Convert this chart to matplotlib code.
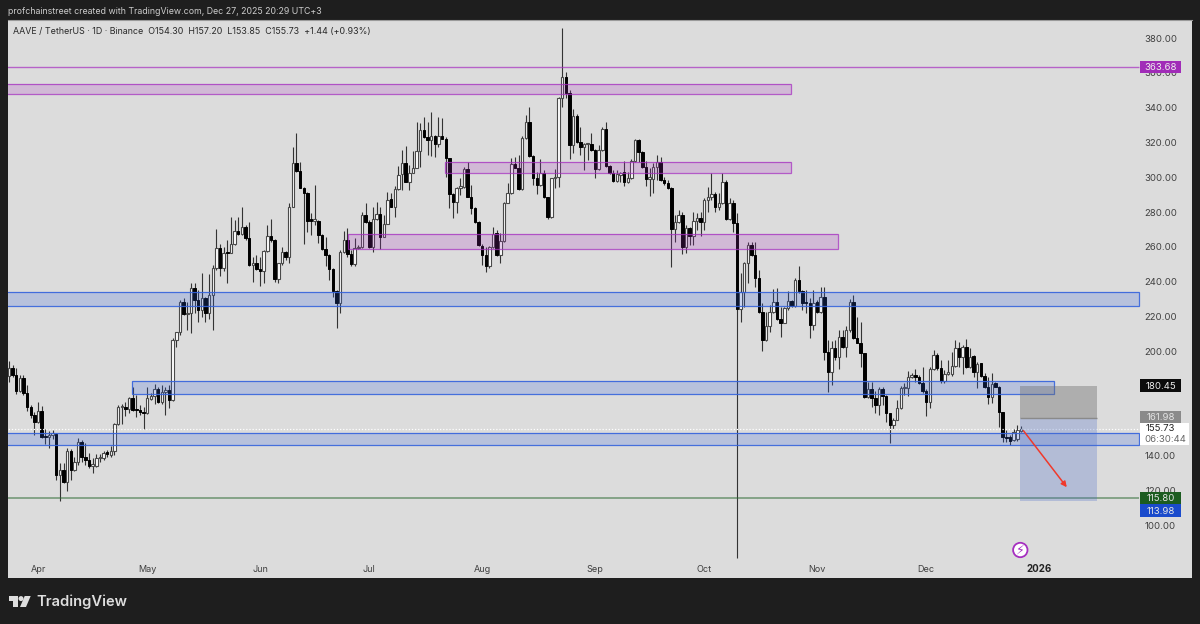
import matplotlib
matplotlib.use("Agg")
import matplotlib.pyplot as plt
from matplotlib.patches import Rectangle, Polygon, Circle
from matplotlib.transforms import blended_transform_factory
import numpy as np
import pandas as pd

plt.rcParams['font.family'] = ['Inter', 'DejaVu Sans']

# daily candles
opens = [
    185,189.6,185.7,176.7,183.8,175.2,167.5,162.7,158.8,165.2,
    150.2,150.2,151.2,151.7,128.1,131,124.3,142.1,131,135.8,
    147.3,138.3,136.8,133.3,133.3,137.7,137.7,141.1,139.6,141.9,
    157.5,167.1,167.1,165.9,172.3,165.9,165.5,164.4,163.6,172.1,
    173.6,177.5,170.3,175.9,177.1,171.3,205.9,210.3,228,220.8,
    221.3,236.1,229,223.3,230.4,221.3,231.9,247.3,258.8,247.3,
    256.3,256.3,261.3,269,267,271.3,264.6,249.2,250.2,246.7,
    245.7,257.5,265.9,263.6,240.9,250.2,256.9,253.6,282.8,307.8,
    303.6,293.8,290.9,275,274.7,274.7,266.5,258.4,255,246.9,
    234.4,227.5,256.9,263.6,255.5,249.8,258.8,259.8,278,274.2,
    259.8,275.5,278.6,265.5,272.8,287,282.8,292.8,301.4,308.1,
    297.2,302,305.3,314.9,327,323.2,321.2,323.7,318.9,323.7,
    321.8,310.6,289.9,285.7,293.8,294.3,304.5,288.6,281.8,274.2,
    260.1,255,248.8,259.4,267.4,255,263.2,285.1,290.5,307.4,
    305.3,292.8,322.2,331.8,312,299.5,295.3,302.4,288.2,276.7,
    299.1,299.7,345.2,357.7,348.5,318.4,335.3,320.3,317.4,318.7,
    319,315.5,304.3,315.5,327.6,306.2,302,297.8,301,302.6,
    297.2,299.5,309.3,321.2,314.5,305.9,298.8,298.8,305.9,308.7,
    298.2,296.3,293.4,269.9,274.2,278,259.8,270.3,265.9,274.5,
    276.5,274.2,286.7,288.6,289.9,282.5,285.1,296.8,275.7,285.1,
    273.2,223.8,233.8,250.5,260.7,255,241.9,222.3,206,214,
    222.3,228,217.9,215.9,224.2,228.4,225.6,240.5,234.2,227.5,
    227.5,214.6,228,222.3,230.9,199.2,187.3,201.1,196.3,207.4,
    202,211.7,228,206.9,204.4,198.2,173.2,177.4,172.3,168.5,
    177.4,173.6,163.6,156.9,160.1,166.5,178,178,184.8,185.2,
    184.8,181.3,176.5,170.3,189.2,197.3,189.6,182.3,186.3,186.3,
    190.9,201.5,196.3,202,190.1,196.7,187.6,192.4,185.3,179,
    172.9,180.9,179,164.6,149.8,150.2,148.4,148.8,154.3,
]
closes = [
    190,185.7,176.7,183.8,175.2,167.5,162.7,158.8,165.2,149.8,
    149.8,151.2,151.7,128.1,131,124.3,142.1,131,135.8,147.3,
    138.3,136.8,133.3,133.9,138.1,138.1,141,140.1,141.9,157.5,
    167.5,167.9,165.9,172.3,165.5,165.5,164.4,163.6,172.3,173.6,
    177.5,170.3,176.1,177.1,171.3,205.9,210.3,227.8,220.8,221.3,
    236.1,229,223.3,230.4,221.3,231.9,247.3,258.8,247.3,256.3,
    255.9,261.3,269,267,271.3,264.6,249.2,250.2,246.7,245.7,
    257.5,265.9,263.6,240.9,250.2,256.9,253.6,282.8,307.8,303.6,
    293.8,290.9,274.7,274.7,275,266.5,258.4,255,246.9,234.4,
    227.5,256.9,263.6,255.5,249.8,258.8,259.8,278,274.2,259.8,
    275.5,278.6,265.5,272.8,286.7,282.8,292.8,301,308.1,297.2,
    302,305.3,314.9,327,323.2,321.2,323.7,318.9,323.7,321.8,
    310.6,289.9,285.7,293.8,294.3,304.5,288.6,281.8,274.2,260.7,
    255,248.8,259.4,267,255,263.2,285.1,290.5,307.4,305.3,
    292.8,322.2,331.8,312,299.5,295.3,302.4,288.2,276.7,299.1,
    299.7,345.2,357.7,348.5,318.4,335.3,320.3,317.4,318.7,319,
    315.5,304.3,315.5,327.6,306.2,302,297.8,301.6,302,297.2,
    299.5,309.3,321.2,314.5,305.9,298.8,299,305.9,308.7,298.2,
    296.3,293.4,269.9,274.2,278,259.8,270.3,265.9,274.5,276.5,
    274.2,286.7,288.6,289.9,282.8,285.1,296.8,275.7,285.1,273.6,
    223.8,233.8,250.5,260.7,255,241.9,222.3,206,214,222.3,
    228,217.9,215.9,224.2,228.4,225.6,240.5,234.2,227.5,227.1,
    214.6,227.5,222.3,230.9,199.2,187.3,201.1,196.3,207.4,202,
    211.7,228,206.9,204.4,198.2,172.9,177.4,172.3,168.5,177.4,
    173.6,163.6,156.9,160.1,166.5,178,178.6,184.8,185.2,184.6,
    181.3,176.5,170.3,189.2,197.3,189.6,182.3,186.3,186.7,190.9,
    201.5,196.3,202,190.1,196.3,187.6,192,185.3,179,172.9,
    180.5,179,164.6,149.8,149.2,147.9,153,154.3,155.73,
]
highs = [
    193.8,191.5,189.6,185.7,185.7,180,168.5,164.6,170.4,167.9,
    154.4,153.7,154,152.1,135.2,135.2,143.5,142.9,138.7,149.2,
    148.3,146.3,141,137.7,140.1,140.5,142.1,142.5,145,157.9,
    168.5,169.3,170.4,173.2,178.6,174.2,168.5,167.1,179,175.1,
    180.5,179,180,178.6,180,206.9,210.7,229,230,228,
    238.6,238.6,234.8,244.8,231,244,249.2,269.7,261.3,259.8,
    263.6,276.7,275.1,276.7,282.4,272.3,274.2,254,254.9,254,
    257.9,272.3,275.5,264,250.5,259.8,257.5,285.1,317.4,325.1,
    308.8,294.3,291,279,295.3,275,267,265.5,255.4,247.3,
    234.8,257.8,269,270.3,257.8,264.6,260.7,279.9,284.7,275.1,
    282.8,285.7,282.8,278,291.5,290.5,294.7,306.4,315.4,317.7,
    306.8,314.9,331.8,330.8,334.7,331.8,337.6,324.1,334.7,334.1,
    323.1,310.8,290.5,294.3,299.1,305.9,308.7,295.3,282.4,274.8,
    261.3,259.8,260.1,270.9,269.4,267.8,285.7,296.3,310.7,311.6,
    312.6,323.7,335.6,340,312.6,303,310.1,303.9,288.6,299.5,
    304.3,345.8,385.6,360.6,350,338.9,336,328.5,319.7,319.3,
    325,315.9,318.4,328.5,331.4,306.8,304,304,303,309.3,
    303,310.1,321.6,321.6,315.1,309.3,304.9,307.8,312.6,311.6,
    300.1,298.2,294,278,280.9,279.9,272.2,271.3,279.9,279.4,
    279.9,287.6,294.3,302,291.5,290.5,302,298.2,287.6,286.7,
    279.3,244.4,251.1,262.6,262.6,262.6,246.3,227.1,222.3,226.1,
    235.4,235.7,225.2,225.2,234.4,229,241.5,248.6,234.8,234.8,
    230,234.8,229,236.2,236.7,205.9,205.5,205.9,211.7,211.7,
    214,229.3,231.9,219,216.5,198.6,181.9,181.9,176.7,179,
    178.6,174.2,164,160.7,171.3,179.4,181.3,188.2,186.7,189,
    185.7,190.1,177.4,190.1,200.1,198.2,194.4,188.6,194.4,199.2,
    205.9,204.9,203,206.3,201.1,197.3,193.4,192.8,186.7,184.8,
    186.7,181.9,179.4,164.6,154,151.2,154.4,156.9,157.2,
]
lows = [
    181.9,184.8,174.8,176.1,174.2,165.2,160.8,151.2,157.9,149.2,
    146,143.9,148.7,125.2,113.3,123.3,119.1,125.2,130.4,133.9,
    135.8,133.9,132,129,132.9,135.8,136.7,138.6,138.6,139.6,
    156.9,157.5,162.1,163.6,165.2,161.3,162.7,154.9,163.2,171.3,
    169,169.7,169,162.7,166.5,170.9,201.7,208.8,220.4,211.7,
    209.8,221.3,216.5,219.4,216.5,218,211.7,246.3,243,245.9,
    239,255.9,260.7,266.5,266.5,263.6,248.8,239.6,246.3,237,
    238.6,256.9,262.6,239.6,239,249.2,252.1,250.2,282.4,303,
    293.4,261.3,268.4,266.5,272.3,262.1,257.8,248.6,240.5,230.9,
    212.7,221.3,255.9,254,248.6,248.6,258.2,258.8,273.2,258.8,
    256.9,275.1,258.2,265.1,272.8,282.4,277,292.4,292.4,296.8,
    292.4,302,304.9,305.9,322.2,312.6,312,311.6,317.4,321.6,
    300.1,281.9,276.1,279.4,289.5,293.4,288.2,278.6,273.2,260.1,
    249.2,245,247.3,259,254.4,250.5,262.6,284.7,290.1,304.9,
    292.4,292.4,321.6,311.6,295.3,290.1,294.7,287.6,275.5,276.1,
    293.4,293.9,340,345.2,310.1,313.6,319.7,312.6,304,309.7,
    314.9,299.1,304,315.1,305.9,301.6,297.2,297.2,297.2,294.7,
    296.3,298.8,308.7,308.7,305.3,294.9,289.2,290.5,298.2,297.6,
    295.3,293,248.2,262.6,273.2,255.5,255.9,260.7,260.7,269.4,
    265.9,269.4,279.9,286.7,279.9,280.9,284.3,275.1,275.1,268.4,
    80.3,216.5,225.2,238.6,254.4,236.7,221.7,199.8,205.6,210.8,
    221.3,217.5,207.9,215.6,223.3,225.2,225.2,232.9,223.3,221.3,
    206.9,211.7,221.7,221.7,194.4,176.1,180,194.4,189,201.1,
    195.9,210.7,206.3,204,190.1,172.3,172.3,167.1,164,162.7,
    168.5,158.8,146.3,154.4,159.7,165.9,174.2,173.6,183.8,181.9,
    180.5,175.5,162.1,166.5,188.6,188.6,180.9,181.3,185.7,185.1,
    190.1,190.5,186.3,189.6,189.6,184.8,178,184.8,178,169,
    169.4,178.6,155.6,147.3,147.3,145.4,147.7,147.7,153.85,
]

# (left, right, top, bottom) in candle index / price
purple_zones = [(-2, 214.9, 353.9, 348.0), (119.8, 214.9, 308.9, 302.9), (93.2, 227.8, 267.5, 258.8)]
blue_zones = [(-2, 310.5, 234.1, 226.4), (33.8, 287.1, 183.3, 175.5), (-2, 310.5, 153.0, 146.3)]
price_ticks = [380, 360, 340, 320, 300, 280, 260, 240, 220, 200, 180, 160, 140, 120, 100]
month_labels = ['Apr', 'May', 'Jun', 'Jul', 'Aug', 'Sep', 'Oct', 'Nov', 'Dec', '2026']
month_starts = ['2025-04-01', '2025-05-01', '2025-06-01', '2025-07-01', '2025-08-01',
                '2025-09-01', '2025-10-01', '2025-11-01', '2025-12-01', '2026-01-01']

opens, highs, lows, closes = map(np.array, (opens, highs, lows, closes))


def fix_reading(p):
    # candles were read with a slightly off scale, the labels 363.68 and 115.80 pin the true one
    # last candle is known exactly from the header so leave it
    out = 380 - (380 - p) * 0.9977 + 0.345
    out[-1] = p[-1]
    return out


opens, highs, lows, closes = map(fix_reading, (opens, highs, lows, closes))

dates = pd.date_range('2025-03-24', periods=len(closes))
x = np.arange(len(closes))
month_x = [(pd.Timestamp(d) - dates[0]).days for d in month_starts]

W, H = 1200, 624
DARK = '#1e1e1e'
PANEL = '#dcdcdc'
PURPLE = '#a62fc0'
BLUE = '#3563dc'

fig = plt.figure(figsize=(W / 100, H / 100), dpi=100, facecolor=DARK)
ax = fig.add_axes([8 / W, 1 - 578 / H, 1184 / W, 558 / H], facecolor=PANEL)
ax.set_xlim(-0.25, 325)
ax.set_ylim(69.8, 390.7)
ax.set_xticks([])
ax.set_yticks([])
for s in ax.spines.values():
    s.set_visible(False)
ax.spines['top'].set_visible(True)
ax.spines['top'].set_color('#9a9a9a')
ax.spines['top'].set_linewidth(0.8)
ytrans = blended_transform_factory(ax.transAxes, ax.transData)

# candles
ax.vlines(x, lows, highs, color='#333333', lw=0.8, zorder=2)
up = closes >= opens
body_h = np.maximum(np.abs(closes - opens), 0.9)
body_b = np.minimum(opens, closes)
ax.bar(x[up], body_h[up], bottom=body_b[up], width=0.68, facecolor='white',
       edgecolor='#4a4a4a', linewidth=0.8, zorder=2.5)
ax.bar(x[~up], body_h[~up], bottom=body_b[~up], width=0.68, facecolor='black',
       edgecolor='black', linewidth=0.7, zorder=2.5)

# drawn zones
for left, right, top, bot in purple_zones:
    ax.add_patch(Rectangle((left, bot), right - left, top - bot, facecolor=PURPLE, alpha=0.2, lw=0, zorder=3))
    ax.add_patch(Rectangle((left, bot), right - left, top - bot, fill=False, edgecolor=PURPLE,
                           lw=0.9, alpha=0.75, zorder=3))
for left, right, top, bot in blue_zones:
    ax.add_patch(Rectangle((left, bot), right - left, top - bot, facecolor=BLUE, alpha=0.22, lw=0, zorder=3))
    ax.add_patch(Rectangle((left, bot), right - left, top - bot, fill=False, edgecolor=BLUE,
                           lw=0.9, alpha=0.9, zorder=3))

ax.hlines(363.68, -2, 310.5, color=PURPLE, lw=1.0, alpha=0.7, zorder=3)
ax.hlines(115.80, -2, 310.5, color='#2e6b34', lw=1.4, alpha=0.5, zorder=3)
ax.hlines(155.73, -2, 310.5, color='white', lw=0.9, linestyles=(0, (1, 1.5)), zorder=3)

# short position box
ax.add_patch(Rectangle((277.8, 161.98), 21.1, 180.45 - 161.98, facecolor='#6f6f6f', alpha=0.42, lw=0, zorder=3))
ax.add_patch(Rectangle((277.8, 113.98), 21.1, 161.98 - 113.98, facecolor='#4a6cc8', alpha=0.28, lw=0, zorder=3))
ax.hlines(161.98, 277.8, 298.9, color='#8a8a8a', lw=1.0, zorder=3)
ax.annotate('', xy=(290.6, 122), xytext=(278.7, 154.5),
            arrowprops=dict(arrowstyle='-|>', color='#f0392b', lw=1.1, mutation_scale=8,
                            shrinkA=0, shrinkB=0), zorder=4)

# price scale
AXIS_X = (1160.5 - 8) / 1184
BOX_L = (1140 - 8) / 1184
BOX_W = 41 / 1184
TXT = 6.9
for p in price_ticks:
    ax.text(AXIS_X, p - 0.3, f'{p:.2f}', transform=ytrans, ha='center', va='center',
            fontsize=TXT, color='#3f3f3f', zorder=4)


def price_label(at, text, fc, tc):
    ax.add_patch(Rectangle((BOX_L, at - 3.65), BOX_W, 7.3, transform=ytrans, facecolor=fc, lw=0, zorder=5))
    ax.text(AXIS_X, at - 0.3, text, transform=ytrans, ha='center', va='center', fontsize=TXT, color=tc, zorder=6)


price_label(363.68, '363.68', '#a12cb8', '#eeeeee')
price_label(180.45, '180.45', '#0c0c0c', '#eeeeee')
price_label(162.3, '161.98', '#8a8a8a', '#e4e4e4')
price_label(115.80, '115.80', '#1c5c20', '#e6e6e6')
price_label(108.5, '113.98', '#1a4bcc', '#e6e6e6')

# current price block
ax.add_patch(Rectangle((BOX_L, 146.0), 49 / 1184, 13.2, transform=ytrans, facecolor='white', lw=0, zorder=5))
ax.text(AXIS_X, 155.9, '155.73', transform=ytrans, ha='center', va='center', fontsize=TXT,
        color='#222222', zorder=6)
ax.text((1165 - 8) / 1184, 149.2, '06:30:44', transform=ytrans, ha='center', va='center', fontsize=TXT,
        color='#666666', zorder=6)

# time scale
for lab, mx in zip(month_labels, month_x):
    ax.text(mx, 0.0155, lab, transform=ax.get_xaxis_transform(), ha='center', va='center',
            fontsize=6.5 if lab != '2026' else 7.0, color='#3f3f3f' if lab != '2026' else '#222222',
            fontweight='normal' if lab != '2026' else 'bold', zorder=4)

ax.text(5 / 1184, 0.9795,
        'AAVE / TetherUS · 1D · Binance  O154.30  H157.20  L153.85  C155.73  +1.44 (+0.93%)',
        transform=ax.transAxes, ha='left', va='center', fontsize=6.4, color='#2a2a2a', zorder=6)

# page chrome in pixel coords
over = fig.add_axes([0, 0, 1, 1], facecolor='none')
over.set_xlim(0, W)
over.set_ylim(H, 0)
over.axis('off')
over.text(8, 11.5, 'profchainstreet created with TradingView.com, Dec 27, 2025 20:29 UTC+3',
          ha='left', va='center', fontsize=6.35, color='#cccccc')
over.add_patch(Circle((1020.3, 550), 7.2, facecolor='white', edgecolor=PURPLE, lw=1.3))
over.text(1020.3, 550, '\u26a1', family='DejaVu Sans', ha='center', va='center', fontsize=9, color=PURPLE)

LOGO = '#dedede'
over.add_patch(Polygon([(9, 596), (18, 596), (18, 607), (13, 607), (13, 601), (9, 601)], fc=LOGO, ec='none'))
over.add_patch(Circle((21, 598.6), 2.5, fc=LOGO, ec='none'))
over.add_patch(Polygon([(24.7, 596), (30.7, 596), (26, 607), (20, 607)], fc=LOGO, ec='none'))
over.text(36, 602, 'TradingView', ha='left', va='center', fontsize=10.6, fontweight='semibold', color=LOGO)

fig.savefig('out.png', dpi=100, facecolor=fig.get_facecolor())
